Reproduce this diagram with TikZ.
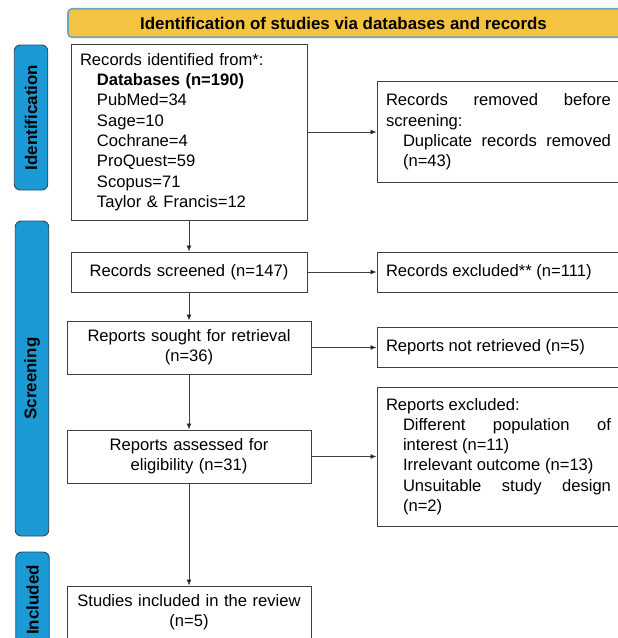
\documentclass[tikz,border=0pt]{standalone}
\usepackage{fontspec}
\setmainfont{Liberation Sans}
\usetikzlibrary{arrows.meta, positioning}

\definecolor{headfill}{HTML}{F5C342}
\definecolor{headline}{HTML}{6BA5C5}
\definecolor{sidefill}{HTML}{1B9AD6}
\definecolor{sideline}{HTML}{2F4A58}
\definecolor{boxline}{HTML}{404040}

\tikzset{
  txt/.style={font=\fontsize{16.6}{20.3}\selectfont},
  box/.style={txt, draw=boxline, line width=0.9pt, fill=white, inner xsep=9pt, inner ysep=2pt},
  midbox/.style={box, align=center, inner xsep=4pt, text width=#1},
  sidebox/.style={box, align=justify, text width=225pt},
  stage/.style={draw=sideline, line width=0.9pt, fill=sidefill, rounded corners=6pt,
    rotate=90, minimum height=33.5pt, inner sep=0pt,
    font=\fontsize{16.9}{20.3}\selectfont\bfseries},
}
\newcommand{\ind}{\hspace*{17pt}}

\begin{document}
\begin{tikzpicture}[x=1pt, y=1pt, node distance=100pt, on grid, >={Latex[length=6pt,width=5pt]}]
  \useasboundingbox (0,0) rectangle (618,-638);
  \clip (0,0) rectangle (618,-638);

  % header
  \node[draw=headline, line width=1.6pt, fill=headfill, rounded corners=4pt,
    minimum width=557pt, minimum height=28.5pt, inner sep=0pt,
    font=\fontsize{16.9}{20.3}\selectfont\bfseries] (head) at (346.5,-23) {\hspace*{-6pt}Identification of studies via databases and records};

  % stage labels
  \node[stage, minimum width=145pt] (sid) at (31,-117.5) {Identification};
  \node[stage, minimum width=315pt] (sscr) at (32,-378.5) {Screening};
  \node[stage, minimum width=96pt] (sinc) at (32.5,-600) {Included};

  % main column
  \node[box, align=left, text width=218pt, minimum height=176pt] (ident) at (189,-132)
    {Records identified from*:\\
     \ind\textbf{Databases (n=190)}\\
     \ind PubMed=34\\
     \ind Sage=10\\
     \ind Cochrane=4\\
     \ind ProQuest=59\\
     \ind Scopus=71\\
     \ind Taylor \& Francis=12};
  \node[midbox=228pt, minimum height=40pt] (screened) [below=140pt of ident] {Records screened (n=147)};
  \node[midbox=236pt, minimum height=53pt] (sought) [below=75.5pt of screened] {Reports sought for retrieval\\(n=36)};
  \node[midbox=236pt, minimum height=53pt] (assessed) [below=109pt of sought] {Reports assessed for\\eligibility (n=31)};
  \node[midbox=236pt, minimum height=53pt] (included) [below=156pt of assessed] {Studies included in the review\\(n=5)};

  % side column
  \node[sidebox, minimum height=101pt] (removed) [right=309.5pt of ident]
    {Records removed before\linebreak screening:\par
     \leftskip=17pt Duplicate records removed\linebreak (n=43)\par};
  \node[sidebox, minimum height=40pt] (excluded) [right=309.5pt of screened] {Records excluded** (n=111)};
  \node[sidebox, minimum height=40pt] (notret) [right=309.5pt of sought] {Reports not retrieved (n=5)};
  \node[sidebox, minimum height=139pt] (repexc) [right=309.5pt of assessed]
    {Reports excluded:\par
     \leftskip=17pt Different population of\linebreak interest (n=11)\par
     Irrelevant outcome (n=13)\par
     Unsuitable study design\linebreak (n=2)\par};

  \path[->, draw=boxline, line width=0.8pt]
  (ident) edge (screened)
  (screened) edge (sought)
  (sought) edge (assessed)
  (assessed) edge (included)
  (ident) edge (removed)
  (screened) edge (excluded)
  (sought) edge (notret)
  (assessed) edge (repexc)
  ;
\end{tikzpicture}
\end{document}
